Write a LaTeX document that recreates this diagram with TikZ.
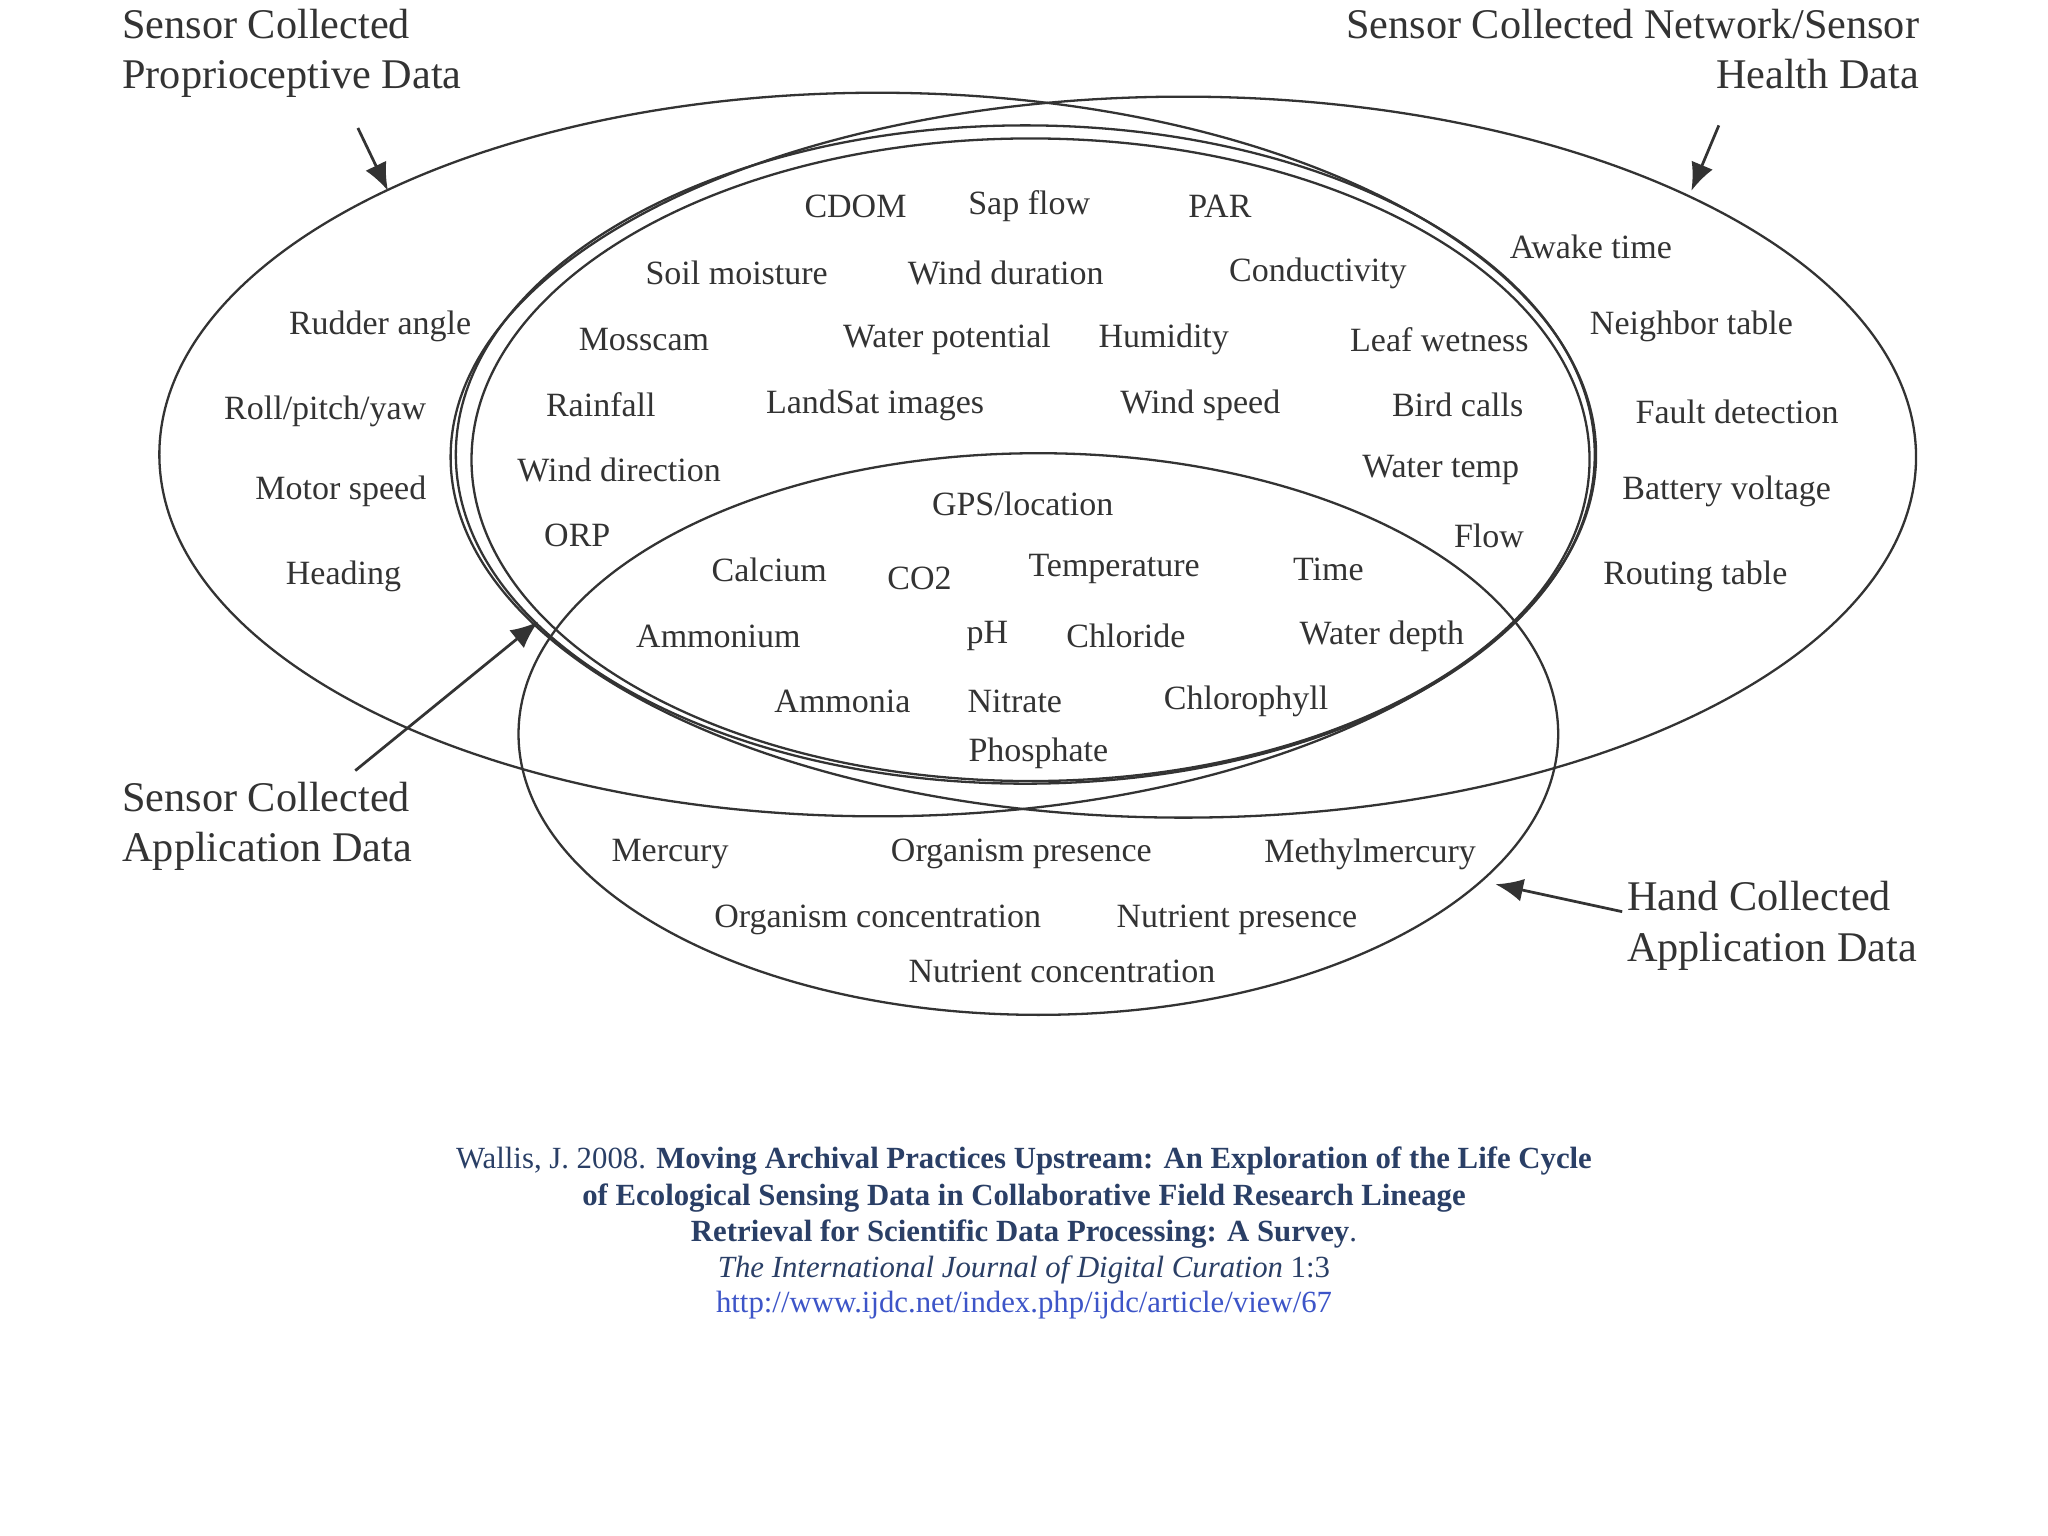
\documentclass[tikz,border=0pt]{standalone}
\usepackage{fontspec}
\setmainfont{Liberation Serif}
\usetikzlibrary{arrows.meta}
\definecolor{capblue}{HTML}{2A3F66}
\definecolor{urlblue}{HTML}{3D55C8}
\definecolor{ink}{HTML}{333333}
\begin{document}
\begin{tikzpicture}[x=0.01cm,y=-0.01cm,
  lab/.style={font=\fontsize{7.4}{8}\selectfont,text=ink,inner sep=0pt},
  ttl/.style={font=\fontsize{9.2}{11}\selectfont,text=ink,inner sep=0pt},
  captxt/.style={font=\fontsize{6.7}{7.9}\selectfont,inner sep=0pt},
  ell/.style={draw=ink,line width=0.5pt},
  arr/.style={ink,line width=0.6pt,-{Latex[length=6pt,width=5pt]}}]
\useasboundingbox (0,0) rectangle (1568,1176);
\fill[white] (0,0) rectangle (1568,1176);
% ellipses
\draw[ell] (672,348) ellipse [x radius=550,y radius=277];
\draw[ell] (906,350) ellipse [x radius=561,y radius=276];
\draw[ell] (785,348) ellipse [x radius=436,y radius=252];
\draw[ell] (789,352) ellipse [x radius=428,y radius=246];
\draw[ell] (795,562) ellipse [x radius=398,y radius=215];
% titles
\node[ttl,anchor=north west,align=left] (t1) at (93,6) {Sensor Collected\\Proprioceptive Data};
\node[ttl,anchor=north east,align=right] (t2) at (1470,6) {Sensor Collected Network/Sensor\\Health Data};
\node[ttl,anchor=north west,align=left] (t3) at (93,598) {Sensor Collected\\Application Data};
\node[ttl,anchor=north west,align=left] (t4) at (1245,674) {Hand Collected\\Application Data};
\coordinate (a1s) at (274,98); \coordinate (a1e) at (297,146);
\coordinate (a2s) at (1316,96); \coordinate (a2e) at (1295,146);
\coordinate (a3s) at (272,590); \coordinate (a3e) at (412,476);
\coordinate (a4s) at (1242,698); \coordinate (a4e) at (1145,677);
\draw[arr] (a1s) -- (a1e);
\draw[arr] (a2s) -- (a2e);
\draw[arr] (a3s) -- (a3e);
\draw[arr] (a4s) -- (a4e);
% labels
\foreach \n/\x/\y/\t in {
 l1/291/250/Rudder angle, l2/249/315/{Roll/pitch/yaw}, l3/261/376/Motor speed, l4/263/441/Heading,
 r1/1218/189/Awake time, r2/1295/250/Neighbor table, r3/1330/315/Fault detection, r4/1322/376/Battery voltage, r5/1298/441/Routing table,
 s1/655/158/CDOM, s2/788/158/Sap flow, s3/934/158/PAR,
 s4/564/209/Soil moisture, s5/770/209/Wind duration, s6/1009/209/Conductivity,
 s7/493/260/Mosscam, s8/725/260/Water potential, s9/891/260/Humidity, s10/1102/260/Leaf wetness,
 s11/460/310/Rainfall, s12/670/310/LandSat images, s13/919/310/Wind speed, s14/1116/310/Bird calls,
 s15/474/360/Wind direction, s16/1103/360/Water temp, s17/442/410/ORP, s18/1140/410/Flow,
 g1/783/386/{GPS/location}, g2/589/436/Calcium, g3/704/443/CO2, g4/853/436/Temperature, g5/1017/436/Time,
 g6/550/487/Ammonium, g7/756/487/pH, g8/862/487/Chloride, g9/1058/487/Water depth,
 g10/645/537/Ammonia, g11/777/537/Nitrate, g12/954/537/Chlorophyll, g13/795/577/Phosphate,
 h1/513/654/Mercury, h2/782/654/Organism presence, h3/1049/654/Methylmercury,
 h4/672/704/Organism concentration, h5/947/704/Nutrient presence, h6/813/744/Nutrient concentration}
 \node[lab] (\n) at (\x,\y) {\t};
% caption
\node[captxt,text=capblue] (c1) at (784,889) {Wallis, J. 2008. \textbf{Moving Archival Practices Upstream: An Exploration of the Life Cycle}};
\node[captxt,text=capblue] (c2) at (784,917) {\textbf{of Ecological Sensing Data in Collaborative Field Research Lineage}};
\node[captxt,text=capblue] (c3) at (784,945) {\textbf{Retrieval for Scientific Data Processing: A Survey}.};
\node[captxt,text=capblue] (c4) at (784,972) {\textit{The International Journal of Digital Curation} 1:3};
\node[captxt,text=urlblue] (c5) at (784,999) {http://www.ijdc.net/index.php/ijdc/article/view/67};
\end{tikzpicture}
\end{document}
